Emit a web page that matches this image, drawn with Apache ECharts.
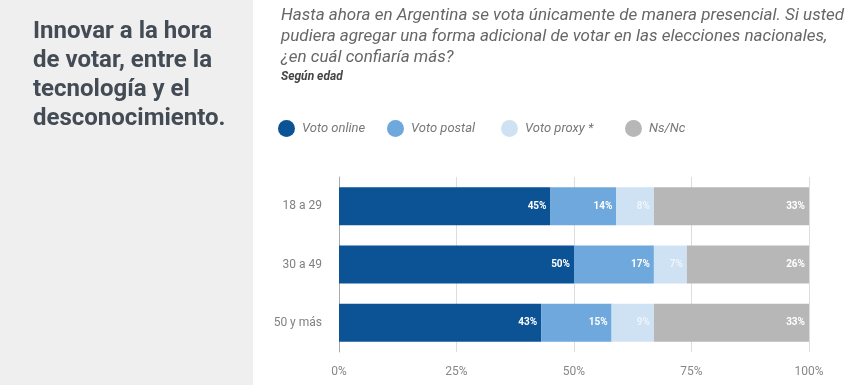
<!DOCTYPE html>
<html><head><meta charset="utf-8">
<script src="https://cdn.jsdelivr.net/npm/echarts@6/dist/echarts.min.js"></script>
<style>html,body{margin:0;padding:0;background:#fff}#c{width:862px;height:385px}</style>
</head><body><div id="c"></div>
<script>
var categories = ['18 a 29', '30 a 49', '50 y más'];
var seriesNames = ['Voto online', 'Voto postal', 'Voto proxy *', 'Ns/Nc'];
var votoOnline = [45, 50, 43];
var votoPostal = [14, 17, 15];
var votoProxy = [8, 7, 9];
var nsNc = [33, 26, 33];
var xTicks = [0, 25, 50, 75, 100];

var colors = ['#0b5394', '#6fa8dc', '#cfe2f3', '#b7b7b7'];
var labelColors = ['#ffffff', '#ffffff', '#eef4fb', '#ffffff'];
var legendLefts = [278, 387, 501, 625];
var allData = [votoOnline, votoPostal, votoProxy, nsNc];

var chart = echarts.init(document.getElementById('c'), null, {renderer: 'canvas'});
var series = seriesNames.map(function (n, i) {
  return {
    name: n, type: 'bar', stack: 'total', barWidth: 38,
    itemStyle: {color: colors[i]},
    label: {show: true, position: 'insideRight', formatter: '{c}%', color: labelColors[i],
      fontFamily: 'Roboto', fontWeight: 'bold', fontSize: 10, distance: 4},
    data: allData[i].slice().reverse()
  };
});
var legends = seriesNames.map(function (n, i) {
  return {
    left: legendLefts[i], top: 120, padding: 0, icon: 'circle', itemWidth: 17, itemHeight: 17,
    textStyle: {fontFamily: 'Roboto', fontStyle: 'italic', fontSize: 13, color: '#777777', padding: [0, 0, 0, 2]},
    data: [n]
  };
});
chart.setOption({
  backgroundColor: '#ffffff',
  animation: false,
  graphic: [
    {type: 'rect', left: 0, top: 0, shape: {width: 253, height: 385}, style: {fill: '#efefef'}, z: -10},
    {type: 'text', left: 33, top: 17, style: {text: 'Innovar a la hora\nde votar, entre la\ntecnología y el\ndesconocimiento.',
      font: 'bold 24px Roboto', fill: '#434b54', lineHeight: 29}},
    {type: 'text', left: 281, top: 5, style: {text: 'Hasta ahora en Argentina se vota únicamente de manera presencial. Si usted\npudiera agregar una forma adicional de votar en las elecciones nacionales,\n¿en cuál confiaría más?',
      font: 'italic 17px Roboto', fill: '#666666', lineHeight: 21}},
    {type: 'text', left: 281, top: 71, style: {text: 'Según edad', font: 'italic bold 12px Roboto', fill: '#444444'}}
  ],
  legend: legends,
  grid: {left: 339, right: 53, top: 177, bottom: 33},
  xAxis: {
    type: 'value', min: 0, max: 100, interval: 25,
    axisLabel: {formatter: '{value}%', color: '#888888', fontFamily: 'Roboto', fontSize: 12, margin: 14},
    splitLine: {lineStyle: {color: '#dddddd'}},
    axisLine: {show: false}, axisTick: {show: false}
  },
  yAxis: {
    type: 'category', data: categories.slice().reverse(),
    axisLabel: {color: '#808080', fontFamily: 'Roboto', fontSize: 12, margin: 17},
    axisLine: {show: true, lineStyle: {color: '#aaaaaa', width: 1}},
    axisTick: {show: false}
  },
  series: series
});
</script></body></html>
